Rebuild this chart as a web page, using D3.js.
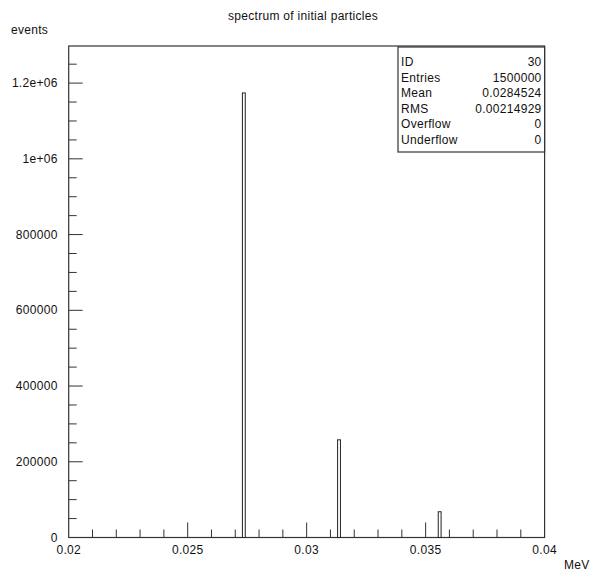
<!DOCTYPE html>
<html>
<head>
<meta charset="utf-8">
<script src="https://cdn.jsdelivr.net/npm/d3@7"></script>
<style>
  body { margin: 0; background: #fff; }
  text { font-family: "Liberation Sans", Arial, sans-serif; fill: #111; font-size: 12px; letter-spacing: 0.3px; }
</style>
</head>
<body>
<div id="chart"></div>
<script>
// histogram bins (low edge, MeV) and their counts
var binLow = [0.0273, 0.0313, 0.03553];
var binWidth = 0.00012;
var counts = [1174000, 258000, 68000];

var xMajor = [0.02, 0.025, 0.03, 0.035, 0.04];
var xMajorLabels = ["0.02", "0.025", "0.03", "0.035", "0.04"];
var yMajor = [0, 200000, 400000, 600000, 800000, 1000000, 1200000];
var yMajorLabels = ["0", "200000", "400000", "600000", "800000", "1e+06", "1.2e+06"];

var statNames = ["ID", "Entries", "Mean", "RMS", "Overflow", "Underflow"];
var statValues = ["30", "1500000", "0.0284524", "0.00214929", "0", "0"];

var W = 592, H = 572;
// note: "top" is a window property, so keep plot edges in their own names
var plotL = 68.7, plotR = 544.6, plotT = 46, plotB = 537.5;

var svg = d3.select("#chart")
	.append("svg")
	.attr("width", W)
	.attr("height", H);

var x = d3.scaleLinear().domain([0.02, 0.04]).range([plotL, plotR]);
var y = d3.scaleLinear().domain([0, 1298000]).range([plotB, plotT]);

// frame
svg.append("rect")
	.attr("x", plotL).attr("y", plotT)
	.attr("width", plotR - plotL).attr("height", plotB - plotT)
	.attr("fill", "none").attr("stroke", "#333").attr("stroke-width", 1.2);

// bars - outlined like the ROOT histogram
svg.selectAll("rect.bin")
	.data(counts)
	.enter()
	.append("rect")
	.attr("class", "bin")
	.attr("x", function(d, i){ return x(binLow[i]); })
	.attr("width", function(d, i){ return x(binLow[i] + binWidth) - x(binLow[i]); })
	.attr("y", function(d){ return y(d); })
	.attr("height", function(d){ return plotB - y(d); })
	.attr("fill", "#fff")
	.attr("stroke", "#222")
	.attr("stroke-width", 1);

// x ticks: minor every 0.001, major every 0.005
var xMinor = d3.range(21, 40).map(function(v){ return v / 1000; });
svg.selectAll("line.xminor")
	.data(xMinor)
	.enter()
	.append("line")
	.attr("class", "xminor")
	.attr("x1", function(d){ return x(d); }).attr("x2", function(d){ return x(d); })
	.attr("y1", plotB).attr("y2", function(d, i){ return (i + 1) % 5 == 0 ? plotB - 15 : plotB - 8; })
	.attr("stroke", "#333");

svg.selectAll("text.xlab")
	.data(xMajor)
	.enter()
	.append("text")
	.attr("class", "xlab")
	.attr("x", function(d){ return x(d); })
	.attr("y", plotB + 16)
	.attr("text-anchor", "middle")
	.text(function(d, i){ return xMajorLabels[i]; });

// y ticks: minor every 50000, major every 200000
var yMinor = d3.range(1, 26).map(function(v){ return v * 50000; });
svg.selectAll("line.yminor")
	.data(yMinor)
	.enter()
	.append("line")
	.attr("class", "yminor")
	.attr("x1", plotL).attr("x2", function(d){ return d % 200000 == 0 ? plotL + 14 : plotL + 8; })
	.attr("y1", function(d){ return y(d); }).attr("y2", function(d){ return y(d); })
	.attr("stroke", "#333");

svg.selectAll("text.ylab")
	.data(yMajor)
	.enter()
	.append("text")
	.attr("class", "ylab")
	.attr("x", plotL - 11)
	.attr("y", function(d){ return y(d) + 4; })
	.attr("text-anchor", "end")
	.text(function(d, i){ return yMajorLabels[i]; });

// titles
svg.append("text").attr("x", 303).attr("y", 20).attr("text-anchor", "middle")
	.text("spectrum of initial particles");
svg.append("text").attr("x", 11).attr("y", 34).text("events");
svg.append("text").attr("x", 564).attr("y", 569).text("MeV");

// stats box
var boxL = 398, boxT = 47, boxB = 152;
svg.append("rect")
	.attr("x", boxL).attr("y", boxT)
	.attr("width", plotR - boxL).attr("height", boxB - boxT)
	.attr("fill", "#fff").attr("stroke", "#333").attr("stroke-width", 1.2);

var rowY = d3.scaleLinear().domain([0, statNames.length - 1]).range([62, 140]);
svg.selectAll("text.sname")
	.data(statNames)
	.enter()
	.append("text")
	.attr("class", "sname")
	.attr("x", boxL + 3)
	.attr("y", function(d, i){ return rowY(i) + 4; })
	.text(function(d){ return d; });
svg.selectAll("text.sval")
	.data(statValues)
	.enter()
	.append("text")
	.attr("class", "sval")
	.attr("x", plotR - 3)
	.attr("y", function(d, i){ return rowY(i) + 4; })
	.attr("text-anchor", "end")
	.text(function(d){ return d; });
</script>
</body>
</html>
